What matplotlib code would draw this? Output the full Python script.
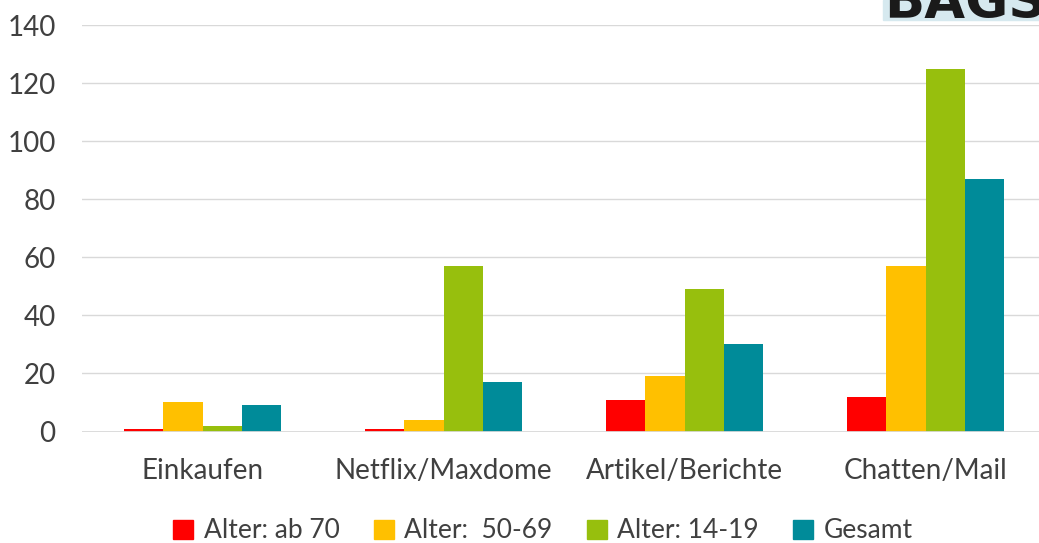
import matplotlib
matplotlib.use("Agg")
import numpy as np
from matplotlib import pyplot as plt
from matplotlib import patches as mpatches

# data
categories = ["Einkaufen", "Netflix/Maxdome", "Artikel/Berichte", "Chatten/Mail"]
series_names = ["Alter: ab 70", "Alter:  50-69", "Alter: 14-19", "Gesamt"]
ab70 = [1, 1, 11, 12]
age50_69 = [10, 4, 19, 57]
age14_19 = [2, 57, 49, 125]
gesamt = [9, 17, 30, 87]
colors = ["#ff0000", "#ffc000", "#97bf0d", "#008b99"]

plt.rcParams["font.family"] = ["Lato", "DejaVu Sans"]
text_col = "#404040"

fig = plt.figure(figsize=(10.39, 5.43), dpi=100)
ax = fig.add_axes([82 / 1039, 111.5 / 543, 964 / 1039, 406.5 / 543])

x = np.arange(len(categories))
w = 0.162
for i, vals in enumerate([ab70, age50_69, age14_19, gesamt]):
	ax.bar(x + (i - 1.5) * w, vals, w, color=colors[i], label=series_names[i], zorder=3)

ax.set_xlim(-0.5, len(categories) - 0.5)
ax.set_ylim(0, 140)
ax.set_yticks(range(0, 141, 20))
ax.set_xticks(x)
ax.set_xticklabels(categories)
ax.grid(axis="y", color="#d9d9d9", linewidth=1.0, zorder=0)
ax.axhline(0, color="#d9d9d9", linewidth=2.0, zorder=4)
for s in ax.spines.values():
	s.set_visible(False)
ax.tick_params(length=0, labelsize=20, colors=text_col)
ax.tick_params(axis="y", pad=19)
ax.tick_params(axis="x", pad=19)

handles = [mpatches.Patch(color=c, label=n) for c, n in zip(colors, series_names)]
fig.legend(handles=handles, loc="center", bbox_to_anchor=(543 / 1039, 12 / 543), ncol=4,
	frameon=False, fontsize=19, handlelength=0.75, handleheight=0.75, handletextpad=0.4,
	columnspacing=1.3, labelcolor=text_col)

# logo fragment in the top right corner
fig.patches.append(mpatches.Rectangle((883 / 1039, 1 - 20 / 543), 1, 20 / 543,
	transform=fig.transFigure, color="#d6e9ef", zorder=0))
fig.text(884 / 1039, 1 - 18 / 543, "BAGSO", fontsize=38, fontweight="heavy",
	color="#1a1a1a", ha="left", va="baseline", family="DejaVu Sans")

fig.savefig("out.png", dpi=100)
